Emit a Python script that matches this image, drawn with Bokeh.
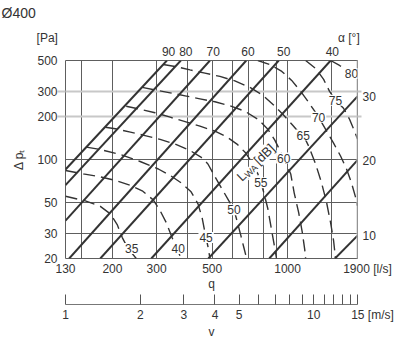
from math import pi
from bokeh.plotting import figure
from bokeh.models import (Range1d, FixedTicker, Grid, Label, Span, NumeralTickFormatter,
                          LogAxis, Title)
from bokeh.layouts import column
from bokeh.embed import file_html
from bokeh.resources import INLINE

FONT = "Liberation Sans"
TXT = "#333333"
LINE = "#333333"
GRID = "#5e5e5e"
LIGHT = "#c8c8c8"
NB = "\u00a0"

# ---------------- data ----------------
q_ticks = [130, 200, 300, 500, 1000, 1900]
dp_ticks = [20, 30, 50, 100, 200, 300, 500]
q_grid = [150, 200, 300, 400, 500, 600, 700, 800, 900, 1000, 1500]
dp_grid_dark = [30, 50, 100]
dp_grid_light = [200, 300]
v_ticks = list(range(1, 16))
v_labelled = [1, 2, 3, 4, 5, 10, 15]

# damper angle lines (alpha): upper/right end and lower/left end
alpha_deg = [90, 80, 70, 60, 50, 40, 30, 20, 10]
alpha_q_hi = [330, 375, 490, 684, 922, 1485, 1900, 1900, 1900]
alpha_dp_hi = [500, 500, 500, 500, 500, 500, 279, 99, 29]
alpha_q_lo = [130, 130, 130, 134.5, 179, 286, 483, 845, 1545]
alpha_dp_lo = [85, 66, 37, 20, 20, 20, 20, 20, 20]

# sound power level curves L_WA [dB]
lwa_levels = [35, 40, 45, 50, 55, 60, 65, 70, 75, 80]
c35_q = [130, 156, 179, 196, 209, 219, 231, 249]
c35_dp = [55, 51, 46.7, 41.4, 34.7, 28.1, 23.5, 20]
c40_q = [130, 153, 176, 205.5, 236, 263, 291, 310, 328, 346, 362, 376]
c40_dp = [83.7, 79.1, 76.0, 71.2, 65.6, 60.1, 51.9, 43.5, 35.8, 28.1, 23.5, 20]
c45_q = [157.5, 179, 215, 258, 305, 340, 376, 412, 439, 456, 468, 481, 490]
c45_dp = [122.4, 117.6, 108.4, 96.8, 85.7, 77.2, 68.4, 59.1, 48.6, 38.8, 30.5, 24.3, 20]
c50_q = [187.5, 205.5, 236, 270, 310, 356, 408, 451, 481, 508, 547, 583, 611, 628, 651, 669, 686]
c50_dp = [169, 165, 156, 147.5, 138.7, 128.5, 115.7, 104.1, 93, 77.9, 62, 51.1, 44.2, 37, 29, 23.9, 20]
c55_q = [227, 258, 296, 340, 390, 447, 513, 573, 628, 681, 727, 761, 782, 804, 834, 857, 881, 903]
c55_dp = [237.6, 226.4, 213.9, 198.9, 184.9, 171.9, 158.6, 144, 128.5, 111.1, 93, 79.1, 68.4, 58.2, 44.9, 34.1, 25.9, 20]
c60_q = [263, 296, 340, 390, 447, 513, 589, 675, 761, 834, 889, 930, 965, 1029, 1062, 1107, 1143, 1170, 1180]
c60_dp = [323, 310, 295.6, 281.6, 268.2, 255.5, 239.5, 219.2, 192.5, 163.8, 137.1, 116.7, 102.4, 79.1, 58.2, 42.1, 31, 23.2, 20]
c65_q = [319, 356, 408, 468, 537, 616, 707, 796, 881, 965, 1048, 1107, 1154, 1213, 1293, 1366, 1431, 1484, 1525, 1553]
c65_dp = [468.7, 453.8, 428.9, 407.3, 386, 358.9, 323.1, 283.9, 241.5, 205.4, 174.7, 156.1, 148.7, 124.4, 93, 68.4, 49.5, 35.8, 26.8, 20]
c70_q = [761, 849, 948, 1038, 1127, 1213, 1282, 1329, 1431, 1525, 1626, 1718, 1798, 1865, 1900]
c70_dp = [500, 468.7, 418.6, 361.8, 302.9, 253.5, 219.2, 198.9, 158.6, 130.6, 105.8, 85.7, 68.4, 54.5, 47.1]
c75_q = [1180, 1293, 1392, 1470, 1553, 1671, 1766, 1848, 1900]
c75_dp = [500, 439.4, 367.7, 302.9, 261.8, 230, 192.5, 158.6, 139.3]
c80_q = [1484, 1611, 1798, 1900]
c80_dp = [500, 461.2, 405.3, 356]

lwa_label_q = [239, 366, 473, 611, 782, 965, 1154, 1329, 1553, 1798]
lwa_label_dp = [23.5, 23.5, 28.1, 44.2, 68.4, 102.4, 148.7, 198.9, 261.8, 405.3]
lwa_title_q = 639
lwa_title_dp = 73

curves_q = [c35_q, c40_q, c45_q, c50_q, c55_q, c60_q, c65_q, c70_q, c75_q, c80_q]
curves_dp = [c35_dp, c40_dp, c45_dp, c50_dp, c55_dp, c60_dp, c65_dp, c70_dp, c75_dp, c80_dp]

# ---------------- main chart ----------------
p = figure(width=400, height=294, x_axis_type="log", y_axis_type="log", y_axis_location=None,
           x_range=Range1d(q_ticks[0], q_ticks[-1]), y_range=Range1d(dp_ticks[0], dp_ticks[-1]),
           output_backend="svg", toolbar_location=None,
           min_border_left=65, min_border_right=42, min_border_top=59, min_border_bottom=36)
p.title.visible = False
p.outline_line_color = GRID
p.outline_line_width = 1
p.background_fill_color = "white"
p.border_fill_color = "white"
p.grid.visible = False

p.add_layout(Grid(dimension=0, ticker=FixedTicker(ticks=q_grid), grid_line_color=GRID, grid_line_width=1))
p.add_layout(Grid(dimension=1, ticker=FixedTicker(ticks=dp_grid_dark), grid_line_color=GRID, grid_line_width=1))
p.add_layout(Grid(dimension=1, ticker=FixedTicker(ticks=dp_grid_light), grid_line_color=LIGHT, grid_line_width=2))
p.add_layout(Span(location=q_ticks[-1], dimension="height", line_color=LIGHT, line_width=2))

for cq, cdp in zip(curves_q, curves_dp):
    p.line(cq, cdp, line_color=LINE, line_width=1.4, line_dash="12 6")

p.segment(x0=alpha_q_lo, y0=alpha_dp_lo, x1=alpha_q_hi, y1=alpha_dp_hi,
          line_color=LINE, line_width=2)


def style_axis(ax, standoff):
    ax.axis_line_color = None
    ax.major_tick_line_color = None
    ax.minor_tick_line_color = None
    ax.major_tick_out = 0
    ax.major_tick_in = 0
    ax.formatter = NumeralTickFormatter(format="0")
    ax.major_label_text_font = FONT
    ax.major_label_text_font_size = "12px"
    ax.major_label_text_color = TXT
    ax.major_label_standoff = standoff
    ax.axis_label_text_font = FONT
    ax.axis_label_text_font_size = "12px"
    ax.axis_label_text_font_style = "normal"
    ax.axis_label_text_color = TXT


def light_stub_axis(length):
    # short continuation of the light grid lines outside the frame
    ax = LogAxis(ticker=FixedTicker(ticks=dp_grid_light))
    style_axis(ax, 0)
    ax.major_label_overrides = {t: "" for t in dp_grid_light}
    ax.major_tick_out = length
    ax.major_tick_line_color = LIGHT
    ax.major_tick_line_width = 2
    return ax


# bottom axis: q
xa = p.xaxis[0]
style_axis(xa, 3)
xa.ticker = FixedTicker(ticks=q_ticks)
xa.major_label_overrides = {q_ticks[-1]: NB * 6 + str(q_ticks[-1]) + NB + "[l/s]"}
xa.axis_label = "q"
xa.axis_label_standoff = -2

# left axes: light stubs, then delta p labels
p.add_layout(light_stub_axis(8), "left")
ya = LogAxis(ticker=FixedTicker(ticks=dp_ticks))
style_axis(ya, 0)
ya.axis_label = "Δ p\u209c"
ya.axis_label_standoff = 8
p.add_layout(ya, "left")

# top axis: damper angles of the lines leaving through the top
top_q = [q for q, d in zip(alpha_q_hi, alpha_dp_hi) if d >= dp_ticks[-1]]
top_a = [a for a, d in zip(alpha_deg, alpha_dp_hi) if d >= dp_ticks[-1]]
top_pad = {90: 1, 80: 3, 70: 2, 60: 1, 50: 3, 40: 1}
ta = LogAxis(ticker=FixedTicker(ticks=top_q))
style_axis(ta, 2)
ta.major_label_overrides = {q: NB * top_pad.get(a, 0) + str(a) for q, a in zip(top_q, top_a)}
ta.axis_label = "[Pa]" + NB * 84 + "α [°]" + NB * 8
ta.axis_label_standoff = -3
p.add_layout(ta, "above")

# right axes: light stubs, then damper angles of the lines leaving through the right edge
p.add_layout(light_stub_axis(4), "right")
right_dp = [d for d in alpha_dp_hi if d < dp_ticks[-1]]
right_a = [a for a, d in zip(alpha_deg, alpha_dp_hi) if d < dp_ticks[-1]]
ra = LogAxis(ticker=FixedTicker(ticks=right_dp))
style_axis(ra, 1)
ra.major_label_overrides = {d: str(a) for d, a in zip(right_dp, right_a)}
p.add_layout(ra, "right")

p.add_layout(Title(text="Ø400", align="left", offset=-64, vertical_align="top", standoff=9,
                   text_font=FONT, text_font_size="14px", text_font_style="normal",
                   text_color=TXT), "above")


def lab(x, y, text, **kw):
    opts = dict(text_font=FONT, text_font_size="12px", text_color=TXT)
    opts.update(kw)
    p.add_layout(Label(x=x, y=y, text=text, **opts))


# curve labels
for lv, lq, ld in zip(lwa_levels, lwa_label_q, lwa_label_dp):
    lab(lq, ld, str(lv), text_align="center", text_baseline="middle",
        background_fill_color="white", padding=1)

# L_WA [dB]
ang = 44 * pi / 180
lab(lwa_title_q, lwa_title_dp, "L", angle=ang, text_align="left", text_baseline="alphabetic",
    text_font_size="13px", background_fill_color="white")
lab(lwa_title_q, lwa_title_dp, "WA", angle=ang, text_align="left", text_baseline="alphabetic",
    text_font_size="9px", x_offset=7.3, y_offset=2.85, background_fill_color="white")
lab(lwa_title_q, lwa_title_dp, "[dB]", angle=ang, text_align="left", text_baseline="alphabetic",
    text_font_size="13px", x_offset=17.0, y_offset=16.5, background_fill_color="white")

# ---------------- velocity scale ----------------
p2 = figure(width=400, height=66, x_axis_type="log", x_range=Range1d(v_ticks[0], v_ticks[-1]),
            y_range=Range1d(0, 1), output_backend="svg", toolbar_location=None,
            min_border_left=65, min_border_right=43, min_border_top=0, min_border_bottom=56)
p2.title.visible = False
p2.outline_line_color = None
p2.grid.visible = False
p2.yaxis.visible = False
p2.background_fill_color = "white"
p2.border_fill_color = "white"
vx = p2.xaxis[0]
vx.ticker = FixedTicker(ticks=v_ticks)
vx.formatter = NumeralTickFormatter(format="0")
ov = {t: "" for t in v_ticks if t not in v_labelled}
ov[v_ticks[-1]] = NB * 9 + str(v_ticks[-1]) + NB + "[m/s]"
vx.major_label_overrides = ov
vx.major_tick_in = 10
vx.major_tick_out = 0
vx.minor_tick_line_color = None
vx.axis_line_color = "#777777"
vx.major_tick_line_color = "#555555"
vx.major_label_standoff = 3
vx.major_label_text_font = FONT
vx.major_label_text_font_size = "12px"
vx.major_label_text_color = TXT
vx.axis_label = "v"
vx.axis_label_standoff = 0
vx.axis_label_text_font = FONT
vx.axis_label_text_font_size = "12px"
vx.axis_label_text_font_style = "normal"
vx.axis_label_text_color = TXT

layout = column(p, p2)
open("out.html", "w").write(file_html(layout, INLINE))
